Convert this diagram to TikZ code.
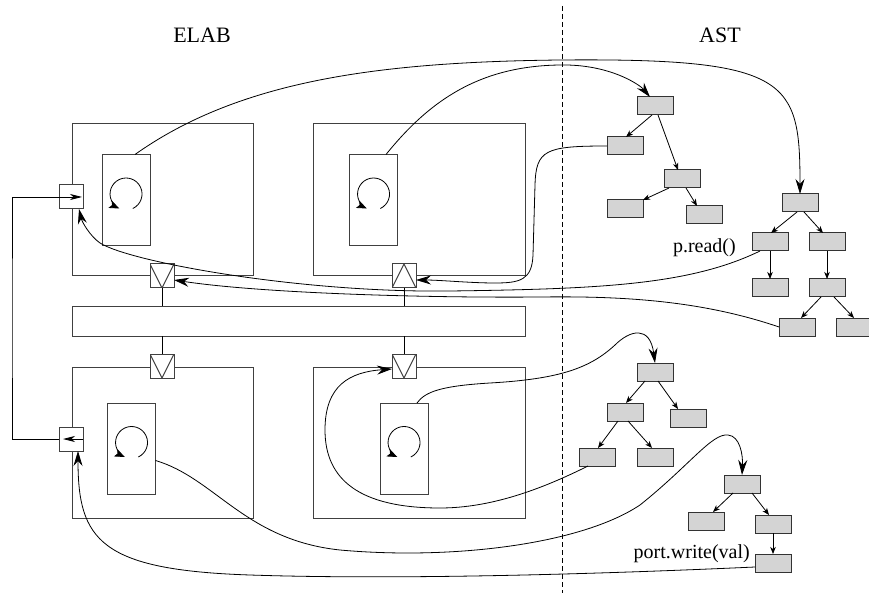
\documentclass[tikz,border=0pt]{standalone}
\usepackage{fontspec}
\setmainfont{Liberation Serif}
\usetikzlibrary{arrows.meta}

\begin{document}
\begin{tikzpicture}[x=1pt, y=-1pt,
  proc/.style={draw=black!75, line width=1pt, inner sep=0pt, outer sep=0pt},
  thread/.style={proc, minimum width=48, minimum height=91},
  port/.style={draw=black!75, fill=white, line width=1pt, minimum size=24, inner sep=0pt, outer sep=0pt},
  pdown/.style={port, path picture={\draw[black!75, line width=1pt] (path picture bounding box.north west) -- (path picture bounding box.south) -- (path picture bounding box.north east);}},
  pup/.style={port, path picture={\draw[black!75, line width=1pt] (path picture bounding box.south west) -- (path picture bounding box.north) -- (path picture bounding box.south east);}},
  ast/.style={draw=black!80, fill=black!17, line width=1pt, minimum width=36, minimum height=18, inner sep=0pt, outer sep=0pt},
  arrow/.style={-{Stealth[length=15pt, width=9pt, inset=5pt]}, line width=0.8pt},
  portarrow/.style={-{Stealth[length=12pt, width=6pt, inset=3.5pt]}, line width=0.8pt},
  link/.style={-{Stealth[length=7pt, width=5.5pt, inset=2pt]}, line width=0.8pt},
  loopa/.style={-{Stealth[length=10pt, width=8pt, inset=2pt]}, line width=0.8pt},
  title/.style={font=\fontsize{22}{26}\selectfont},
  call/.style={font=\fontsize{20}{24}\selectfont, inner sep=0pt}
]
\useasboundingbox (0,0) rectangle (869,593);

% titles and separator
\node[title] (elab) at (202,35) {ELAB};
\node[title] (astt) at (720,35) {AST};
\draw[dashed, dash pattern=on 5pt off 3pt, line width=0.8pt] (562,6) -- (562,593);

% processes and threads
\node[proc, minimum width=181, minimum height=152] (pa) at (162.5,200) {};
\node[proc, minimum width=212, minimum height=152] (pb) at (419,200) {};
\node[proc, minimum width=181, minimum height=151] (pc) at (162.5,442.5) {};
\node[proc, minimum width=212, minimum height=151] (pd) at (419,442.5) {};
\node[proc, minimum width=453, minimum height=30] (bar) at (298.5,321) {};
\node[thread] (ta) at (126,200) {};
\node[thread] (tb) at (373.5,200) {};
\node[thread] (tc) at (131.5,448.5) {};
\node[thread] (td) at (404,448.5) {};
\foreach \t in {ta,tb,tc,td}
  \draw[loopa] ([xshift=6.8pt, yshift=-8.5pt]\t.center) arc[start angle=-65, end angle=245, radius=16pt];

% ports
\node[port] (qa1) at (71,197) {};
\node[pdown] (qa2) at (162,276) {};
\node[pup] (qb) at (404,276) {};
\node[pdown] (qc1) at (162,366) {};
\node[port] (qc2) at (71,439) {};
\node[pdown] (qd) at (404,366) {};
\draw[line width=1pt] (qa2.south) -- (qa2.south |- bar.north);
\draw[line width=1pt] (qb.south) -- (qb.south |- bar.north);
\draw[line width=1pt] (qc1.north |- bar.south) -- (qc1.north);
\draw[line width=1pt] (qd.north |- bar.south) -- (qd.north);
\coordinate (wire) at (12,318);
\draw[portarrow] (qc2.east) -- ([xshift=4]qc2.west);
\draw[line width=0.8pt] (qc2.west) -| (wire) |- (qa1.west);
\draw[portarrow] (qa1.west) -- ([xshift=-1]qa1.east);

% AST trees
\node[ast] (a1) at (655,106) {};
\node[ast] (a2) at (625,146) {};
\node[ast] (a3) at (682,179) {};
\node[ast] (a4) at (625,209) {};
\node[ast] (a5) at (704,215) {};
\node[ast] (b1) at (800,203) {};
\node[ast] (b2) at (770,242) {};
\node[ast] (b3) at (827,242) {};
\node[ast] (b4) at (770,288) {};
\node[ast] (b5) at (827,288) {};
\node[ast] (b6) at (797,327) {};
\node[ast] (b7) at (854,327) {};
\node[ast] (c1) at (655,372) {};
\node[ast] (c2) at (625,412) {};
\node[ast] (c3) at (688,418) {};
\node[ast] (c4) at (597,457) {};
\node[ast] (c5) at (655,457) {};
\node[ast] (d1) at (742,484) {};
\node[ast] (d2) at (706,521) {};
\node[ast] (d3) at (773,524) {};
\node[ast] (d4) at (773,563) {};
\foreach \p/\u/\c/\v in {a1/-3/a2/1, a1/3/a3/-4, a3/-13/a4/18, a3/4/a5/-7,
    b1/-3/b2/1, b1/4/b3/-4, b2/0/b4/0, b3/0/b5/0, b5/-6/b6/4, b5/7/b7/0,
    c1/-10/c2/1, c1/3/c3/-10, c2/-7/c4/1, c2/3/c5/-3,
    d1/-9/d2/7, d1/10/d3/-4, d3/0/d4/0}
  \draw[link] ([xshift=\u]\p.south) -- ([xshift=\v]\c.north);
\node[call, anchor=base east] (pread) at (736,253) {p.read()};
\node[call, anchor=base east] (pwrite) at (750,558) {port.write(val)};

% cross references
\draw[arrow] ([xshift=9]ta.north) .. controls (240,80) and (380,62) .. (560,60) .. controls (790,58) and (800,80) .. (b1.north);
\draw[arrow] ([xshift=12.5]tb.north) .. controls (430,100) and (480,66) .. (560,65) .. controls (610,64) and (640,85) .. ([xshift=-5]a1.north);
\draw[arrow] (a2.west) .. controls (545,146) and (536,150) .. (535,185) -- (533,255) .. controls (532,280) and (520,283) .. (495,283) .. controls (470,283) and (440,280) .. ([yshift=-4]qb.east);
\draw[arrow] ([xshift=8]b2.south west) .. controls (690,285) and (600,289) .. (450,291) .. controls (300,293) and (130,262) .. (100,243) .. controls (90,236) and (82,222) .. ([xshift=8]qa1.south);
\draw[arrow] (b6.west) .. controls (700,300) and (620,296) .. (540,297) .. controls (420,298) and (260,293) .. ([yshift=-4]qa2.east);
\draw[arrow] ([xshift=13]td.north) .. controls (425,392) and (440,386) .. (490,383) .. controls (560,379) and (590,368) .. (615,345) .. controls (630,330) and (650,325) .. (c1.north);
\draw[arrow] ([xshift=-9]c4.south) .. controls (540,490) and (490,508) .. (440,508) .. controls (360,508) and (325,480) .. (325,430) .. controls (325,385) and (350,372) .. ([yshift=-3]qd.west);
\draw[arrow] ([yshift=-12]tc.east) .. controls (215,478) and (245,540) .. (340,550) .. controls (450,560) and (580,545) .. (640,505) .. controls (690,465) and (712,433) .. (728,435) .. controls (740,436) and (743,455) .. (d1.north);
\draw[arrow] ([yshift=-4]d4.west) .. controls (600,574) and (400,580) .. (250,575) .. controls (100,570) and (78,540) .. ([xshift=7]qc2.south);
\end{tikzpicture}
\end{document}
